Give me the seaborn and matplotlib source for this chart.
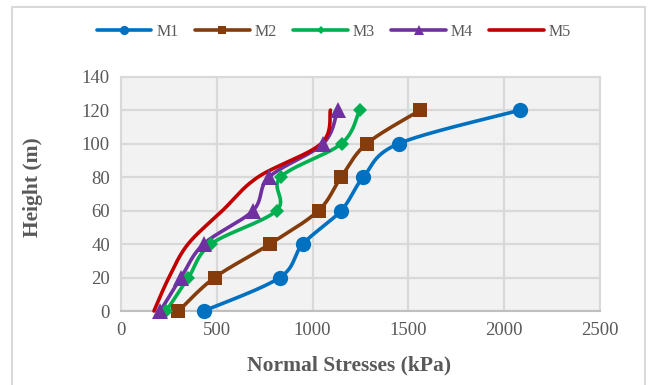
import numpy as np
import pandas as pd
import matplotlib
matplotlib.use("Agg")
import matplotlib.pyplot as plt
import seaborn as sns
from matplotlib.lines import Line2D
from matplotlib.patches import Rectangle

# ---- data ----
heights = [0, 20, 40, 60, 80, 100, 120]
m1 = [432, 829, 949, 1149, 1265, 1450, 2085]
m2 = [300, 489, 777, 1031, 1149, 1283, 1563]
m3 = [236, 352, 470, 812, 833, 1151, 1245]
m4 = [205, 313, 431, 689, 773, 1055, 1130]
m5 = [172, 250, 350, 530, 715, 1045, 1093]
series_names = ["M1", "M2", "M3", "M4", "M5"]
x_ticks = [0, 500, 1000, 1500, 2000, 2500]
y_ticks = [0, 20, 40, 60, 80, 100, 120, 140]

colors = ["#0070C0", "#843C0C", "#00B050", "#7030A0", "#C00000"]
markers = ["o", "s", "D", "^", None]
msizes = [11, 10.5, 7.5, 11, 0]

sns.set_theme(style="white")
plt.rcParams["font.family"] = ["Liberation Serif", "DejaVu Serif"]

W, H = 653, 385
fig = plt.figure(figsize=(W / 100, H / 100), dpi=100)
ax = fig.add_axes([121 / W, 1 - 311 / H, (600 - 121) / W, (311 - 76.6) / H])

XMAX, YMAX = 2500, 140
PXW, PXH = 479, 234.4


def smooth(xs, ys, n=30):
    # Catmull-Rom (Excel-like) smoothing done in screen-proportional space
    P = np.column_stack([np.asarray(xs, float) / XMAX * PXW,
                         np.asarray(ys, float) / YMAX * PXH])
    pts = np.vstack([P[0], P, P[-1]])
    out = []
    for i in range(1, len(pts) - 2):
        p0, p1, p2, p3 = pts[i - 1], pts[i], pts[i + 1], pts[i + 2]
        c1 = p1 + (p2 - p0) / 6
        c2 = p2 - (p3 - p1) / 6
        t = np.linspace(0, 1, n)[:, None]
        seg = ((1 - t) ** 3) * p1 + 3 * ((1 - t) ** 2) * t * c1 + 3 * (1 - t) * t ** 2 * c2 + t ** 3 * p2
        out.append(seg if i == 1 else seg[1:])
    S = np.vstack(out)
    return S[:, 0] / PXW * XMAX, S[:, 1] / PXH * YMAX


ax.set_facecolor("#F2F2F2")
ax.set_xlim(0, XMAX)
ax.set_ylim(0, YMAX)
ax.set_xticks(x_ticks)
ax.set_yticks(y_ticks)
ax.grid(True, color="#D9D9D9", linewidth=1.6)
ax.set_axisbelow(True)
for s in ["top", "right", "left"]:
    ax.spines[s].set_color("#D9D9D9")
    ax.spines[s].set_linewidth(1.5)
ax.spines["bottom"].set_color("#BFBFBF")
ax.spines["bottom"].set_linewidth(1.5)

all_series = [m1, m2, m3, m4, m5]
handles = []
for name, vals, c, mk, ms in zip(series_names, all_series, colors, markers, msizes):
    sx, sy = smooth(vals, heights)
    df = pd.DataFrame({"x": sx, "y": sy})
    sns.lineplot(data=df, x="x", y="y", sort=False, estimator=None, ax=ax,
                 color=c, linewidth=2.6, clip_on=False, zorder=3)
    if mk is not None:
        ax.plot(vals, heights, linestyle="none", marker=mk, markersize=ms,
                color=c, markeredgewidth=0, clip_on=False, zorder=4)
    handles.append(Line2D([], [], color=c, linewidth=2.6, marker=mk,
                          markersize=ms * 0.6 if mk else 0, markeredgewidth=0))

ax.tick_params(axis="both", length=0, labelsize=13.5, labelcolor="#595959", pad=8)
ax.set_xlabel("")
ax.set_ylabel("")

fig.text(349 / W, 1 - 365 / H, "Normal Stresses (kPa)", ha="center", va="center",
         fontsize=15.5, fontweight="bold", color="#595959")
fig.text(33 / W, 1 - 187 / H, "Height (m)", ha="center", va="center", rotation=90,
         fontsize=15.5, fontweight="bold", color="#595959")

leg = fig.legend(handles, series_names, loc="center", bbox_to_anchor=(334 / W, 1 - 32 / H),
                 ncol=5, frameon=False, fontsize=11.5, handlelength=3.4,
                 columnspacing=1.05, handletextpad=0.3, labelcolor="#595959")

fig.patches.append(Rectangle((12 / W, -0.02), (645 - 12) / W, 1 - 7 / H + 0.02,
                             transform=fig.transFigure, fill=False,
                             edgecolor="#D9D9D9", linewidth=1.5))

fig.savefig("out.png", dpi=100, facecolor="white")
